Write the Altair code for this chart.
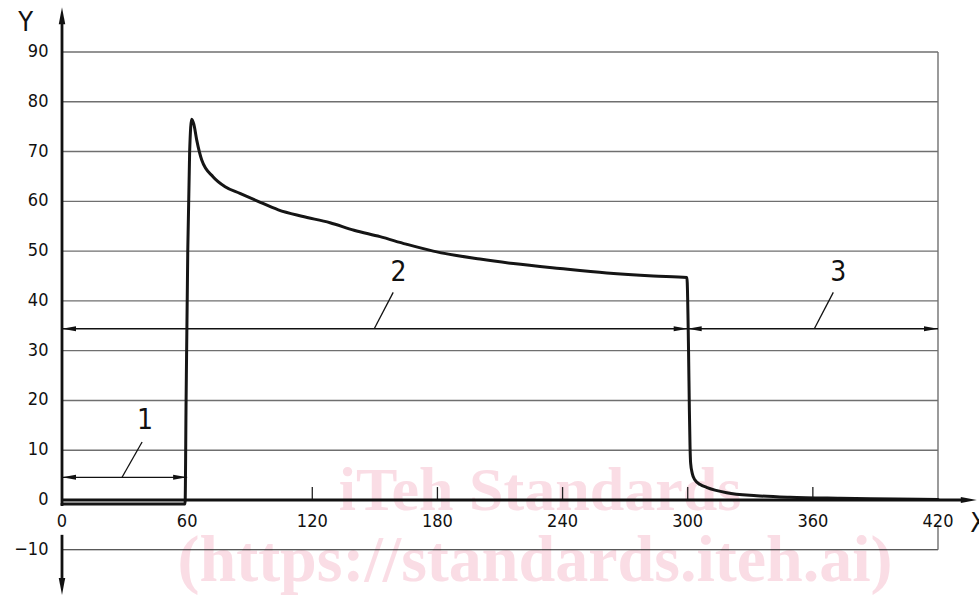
import altair as alt
import pandas as pd

# ---------------- data ----------------
curve_x = [0, 59.0, 59.5, 60.3, 61.2, 62.2, 63.2, 64.6, 67.0, 72.5, 78.0, 85.3, 94.0,
           103.7, 115.0, 128.5, 140.0, 152.5, 165.0, 178.0, 200.4, 216.4, 238.8, 261.2,
           283.5, 299.6,
           300.4, 300.8, 301.1, 301.4, 302.2, 303.5, 306.0, 309.0, 318.7, 333.0,
           349.0, 373.0, 400.0, 420.0]
curve_y = [-0.8, -0.8, 20.0, 50.0, 70.0, 76.5, 75.5, 72.3, 68.3, 64.9, 63.0, 61.6, 60.0,
           58.3, 57.0, 55.7, 54.2, 52.9, 51.4, 50.0, 48.4, 47.5, 46.5, 45.6,
           45.0, 44.7,
           30.0, 18.0, 11.0, 7.4, 5.3, 4.0, 3.1, 2.55, 1.47, 0.87,
           0.54, 0.34, 0.2, 0.12]

grid_y = [10, 20, 30, 40, 50, 60, 70, 80, 90]
y_tick_values = [-10, 0, 10, 20, 30, 40, 50, 60, 70, 80, 90]
y_tick_labels = ["\u221210", "0", "10", "20", "30", "40", "50", "60", "70", "80", "90"]
x_tick_values = [0, 60, 120, 180, 240, 300, 360, 420]
x_tick_labels = ["0", "60", "120", "180", "240", "300", "360", "420"]
x_tick_marks = [120, 180, 240, 300, 360]

dim_names = ["1", "2", "3"]
dim_start = [0, 0, 300]
dim_end = [60, 300, 420]
dim_level = [4.56, 34.4, 34.4]
leader_x1 = [28.8, 149.7, 360.7]
leader_x2 = [38.4, 158.8, 369.8]
leader_y2 = [11.65, 41.7, 41.7]
name_x = [39.8, 161.3, 372.2]
name_y = [15.9, 45.6, 45.6]

# ---------------- scales (pixel-exact mapping) ----------------
W, H = 979, 598
xs = alt.Scale(domain=[-29.726, 439.658], nice=False, zero=False)
ys = alt.Scale(domain=[-19.688, 100.446], nice=False, zero=False)
FONT = "DejaVu Sans Condensed, Liberation Sans Narrow, DejaVu Sans"

def X(f="x"):
    return alt.X(f + ":Q", scale=xs, axis=None)

def Y(f="y"):
    return alt.Y(f + ":Q", scale=ys, axis=None)

# watermark (drawn first, behind)
wm = pd.DataFrame({"t": ["iTeh Standards", "(https://standards.iteh.ai)"],
                   "px": [540, 535], "py": [510, 581], "fs": [62, 66]})
watermark = alt.Chart(wm).mark_text(font="Liberation Serif", fontWeight="bold",
                                    color="#fadde5", baseline="alphabetic", align="center").encode(
    x=alt.X("px:Q", scale=None), y=alt.Y("py:Q", scale=None),
    text="t:N", size=alt.Size("fs:Q", scale=None))

# grid lines
grid_df = pd.DataFrame({"y": grid_y, "x": 0, "x2": 420})
grid = alt.Chart(grid_df).mark_rule(color="#6f6f6f", strokeWidth=1.4).encode(
    x=X(), x2="x2:Q", y=Y())

minus_df = pd.DataFrame({"y": [-10], "x": [0], "x2": [420]})
minus_line = alt.Chart(minus_df).mark_rule(color="#222222", strokeWidth=1.1).encode(
    x=X(), x2="x2:Q", y=Y())

# right border
border_df = pd.DataFrame({"x": [420, 420], "y": [0, -5.0], "y2": [90, -10]})
border = alt.Chart(border_df).mark_rule(color="#6f6f6f", strokeWidth=1.4).encode(
    x=X(), y=Y(), y2="y2:Q")

# axes lines (thick)
axis_df = pd.DataFrame({"x": [0, 0, 0], "x2": [0, 0, 433.0],
                        "y": [-1.2, -7.0, 0], "y2": [96.0, -16.5, 0]})
axes = alt.Chart(axis_df).mark_rule(color="#111111", strokeWidth=2.8).encode(
    x=X(), x2="x2:Q", y=Y(), y2="y2:Q")

# x ticks (upward)
tick_df = pd.DataFrame({"x": x_tick_marks, "y": 0, "y2": 2.6})
ticks = alt.Chart(tick_df).mark_rule(color="#222222", strokeWidth=1.3).encode(
    x=X(), y=Y(), y2="y2:Q")

# arrowheads (tip at the point)
RIGHT = "M0,0L-2,-0.36L-2,0.36Z"
LEFT = "M0,0L2,-0.36L2,0.36Z"
AR = "M0,0L-2,-0.38L-2,0.38Z"
AU = "M0,0L-0.38,2L0.38,2Z"
AD = "M0,0L-0.38,-2L0.38,-2Z"
arrow_rows = []
for s, e, lv in zip(dim_start, dim_end, dim_level):
    arrow_rows.append({"x": s, "y": lv, "shape": LEFT, "size": 196})
    arrow_rows.append({"x": e, "y": lv, "shape": RIGHT, "size": 196})
arrow_rows.append({"x": 0, "y": 99.0, "shape": AU, "size": 289})
arrow_rows.append({"x": 0, "y": -19.1, "shape": AD, "size": 289})
arrow_rows.append({"x": 438.6, "y": 0, "shape": AR, "size": 256})
arrows = alt.Chart(pd.DataFrame(arrow_rows)).mark_point(
    filled=True, color="#111111", opacity=1, strokeWidth=0).encode(
    x=X(), y=Y(), shape=alt.Shape("shape:N", scale=None),
    size=alt.Size("size:Q", scale=None))

# dimension lines
dim_df = pd.DataFrame({"x": dim_start, "x2": dim_end, "y": dim_level})
dims = alt.Chart(dim_df).mark_rule(color="#111111", strokeWidth=1.3).encode(
    x=X(), x2="x2:Q", y=Y())

lead_df = pd.DataFrame({"x": leader_x1, "x2": leader_x2, "y": dim_level, "y2": leader_y2})
leaders = alt.Chart(lead_df).mark_rule(color="#111111", strokeWidth=1.3).encode(
    x=X(), x2="x2:Q", y=Y(), y2="y2:Q")

name_df = pd.DataFrame({"x": name_x, "y": name_y, "t": dim_names})
names = alt.Chart(name_df).mark_text(font=FONT, fontSize=28, color="#111111",
                                     align="center", baseline="middle").encode(
    x=X(), y=Y(), text="t:N")

# the curve
curve_df = pd.DataFrame({"x": curve_x, "y": curve_y, "o": range(len(curve_x))})
curve = alt.Chart(curve_df).mark_line(color="#151515", strokeWidth=3.0,
                                      interpolate="monotone",
                                      strokeJoin="round", strokeCap="round").encode(
    x=X(), y=Y(), order="o:Q")

# tick labels
ylab_df = pd.DataFrame({"y": y_tick_values, "t": y_tick_labels, "x": -6.5})
ylabels = alt.Chart(ylab_df).mark_text(font=FONT, fontSize=18, color="#111111",
                                       align="right", baseline="middle").encode(
    x=X(), y=Y(), text="t:N")

xlab_df = pd.DataFrame({"x": x_tick_values, "t": x_tick_labels, "y": -4.4})
xlabels = alt.Chart(xlab_df).mark_text(font=FONT, fontSize=18, color="#111111",
                                       align="center", baseline="middle").encode(
    x=X(), y=Y(), text="t:N")

# axis titles
title_df = pd.DataFrame({"x": [-21.0, 435.5], "y": [95.8, -4.8], "t": ["Y", "X"]})
titles = alt.Chart(title_df).mark_text(font=FONT, fontSize=27, color="#111111",
                                       align="left", baseline="middle").encode(
    x=X(), y=Y(), text="t:N")

chart = alt.layer(
    watermark, grid, minus_line, border, ticks, dims, leaders, curve, axes, arrows,
    names, ylabels, xlabels, titles
).properties(
    width=W, height=H, padding=0, autosize=alt.AutoSizeParams(type="none"),
    background="white"
).configure_view(stroke=None)

chart.save("out.html", embed_options={"renderer": "svg", "actions": False})
